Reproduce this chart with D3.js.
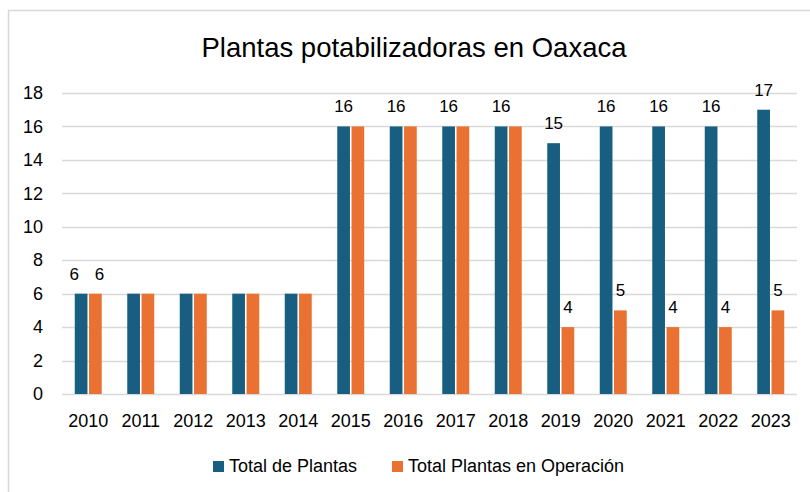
<!DOCTYPE html>
<html>
<head>
<meta charset="utf-8">
<script src="https://cdn.jsdelivr.net/npm/d3@7"></script>
<style>
  body { margin: 0; background: #fff; }
  svg { display: block; font-family: "Liberation Sans", Arial, sans-serif; }
</style>
</head>
<body>
<div id="chart"></div>
<script>
var years = ['2010', '2011', '2012', '2013', '2014', '2015', '2016', '2017', '2018', '2019', '2020', '2021', '2022', '2023'];
var totalPlantas = [6, 6, 6, 6, 6, 16, 16, 16, 16, 15, 16, 16, 16, 17];
var enOperacion = [6, 6, 6, 6, 6, 16, 16, 16, 16, 4, 5, 4, 4, 5];
// which bars carry a value label
var showTotal = [1, 0, 0, 0, 0, 1, 1, 1, 1, 1, 1, 1, 1, 1];
var showOper = [1, 0, 0, 0, 0, 0, 0, 0, 0, 1, 1, 1, 1, 1];
var yTicks = [0, 2, 4, 6, 8, 10, 12, 14, 16, 18];
var seriesNames = ['Total de Plantas', 'Total Plantas en Operación'];
var colors = ['#185e80', '#e97132'];

var width = 810, height = 492;
var margin = {top: 93, right: 13, bottom: 98, left: 62};

var svg = d3.select('#chart').append('svg')
    .attr('width', width)
    .attr('height', height);

// chart frame
svg.append('rect')
    .attr('x', 8.5).attr('y', 10.5)
    .attr('width', 820).attr('height', 500)
    .attr('fill', 'none')
    .attr('stroke', '#d9d9d9')
    .attr('stroke-width', 1.5);

var x = d3.scaleBand()
    .domain(years)
    .range([margin.left, width - margin.right])
    .paddingInner(0.486)
    .paddingOuter(0.243);

var sub = d3.scaleBand()
    .domain([0, 1])
    .range([0, x.bandwidth()])
    .paddingInner(0.11);

var y = d3.scaleLinear()
    .domain([0, 18])
    .range([height - margin.bottom, margin.top]);

// gridlines
svg.append('g')
    .selectAll('line')
    .data(yTicks)
    .join('line')
    .attr('x1', margin.left)
    .attr('x2', width - margin.right)
    .attr('y1', function(d){ return Math.round(y(d)) + 0.5; })
    .attr('y2', function(d){ return Math.round(y(d)) + 0.5; })
    .attr('stroke', '#d9d9d9')
    .attr('stroke-width', 1.3);

// y axis labels
var yAxis = d3.axisLeft(y).tickValues(yTicks).tickSize(0).tickPadding(0);
svg.append('g')
    .attr('transform', 'translate(43,0)')
    .call(yAxis)
    .call(function(g){ g.select('.domain').remove(); })
    .selectAll('text')
    .attr('font-size', 18)
    .attr('font-family', '"Liberation Sans", Arial, sans-serif')
    .attr('fill', '#000');

// x axis labels
var xAxis = d3.axisBottom(x).tickSize(0).tickPadding(0);
svg.append('g')
    .attr('transform', 'translate(0,' + (height - margin.bottom + 20) + ')')
    .call(xAxis)
    .call(function(g){ g.select('.domain').remove(); })
    .selectAll('text')
    .attr('font-size', 18)
    .attr('font-family', '"Liberation Sans", Arial, sans-serif')
    .attr('fill', '#000');

var series = [totalPlantas, enOperacion];
var shows = [showTotal, showOper];
// the 2010 pair of labels is pushed apart so they do not touch
var labelShift = [-7, 4];

series.forEach(function(vals, s){
    var g = svg.append('g');
    g.selectAll('rect')
        .data(vals)
        .join('rect')
        .attr('x', function(d, i){ return x(years[i]) + sub(s); })
        .attr('y', function(d){ return y(d); })
        .attr('width', sub.bandwidth())
        .attr('height', function(d){ return y(0) - y(d); })
        .attr('fill', colors[s]);

    g.selectAll('text')
        .data(vals.map(function(d, i){ return {v: d, i: i}; }).filter(function(d){ return shows[s][d.i]; }))
        .join('text')
        .attr('x', function(d){
            var cx = x(years[d.i]) + sub(s) + sub.bandwidth() / 2;
            return d.i === 0 ? cx + labelShift[s] : cx;
        })
        .attr('y', function(d){ return y(d.v) - 14; })
        .attr('text-anchor', 'middle')
        .attr('font-size', 17)
        .attr('fill', '#000')
        .text(function(d){ return d.v; });
});

// title
svg.append('text')
    .attr('x', 414)
    .attr('y', 57)
    .attr('text-anchor', 'middle')
    .attr('font-size', 27.5)
    .attr('fill', '#000')
    .text('Plantas potabilizadoras en Oaxaca');

// legend
var legendX = [213, 392];
var legend = svg.append('g')
    .selectAll('g')
    .data(seriesNames)
    .join('g')
    .attr('transform', function(d, i){ return 'translate(' + legendX[i] + ',466)'; });

legend.append('rect')
    .attr('x', 0).attr('y', -5)
    .attr('width', 11).attr('height', 11)
    .attr('fill', function(d, i){ return colors[i]; });

legend.append('text')
    .attr('x', 16)
    .attr('y', 6)
    .attr('font-size', 18)
    .attr('fill', '#000')
    .text(function(d){ return d; });
</script>
</body>
</html>
